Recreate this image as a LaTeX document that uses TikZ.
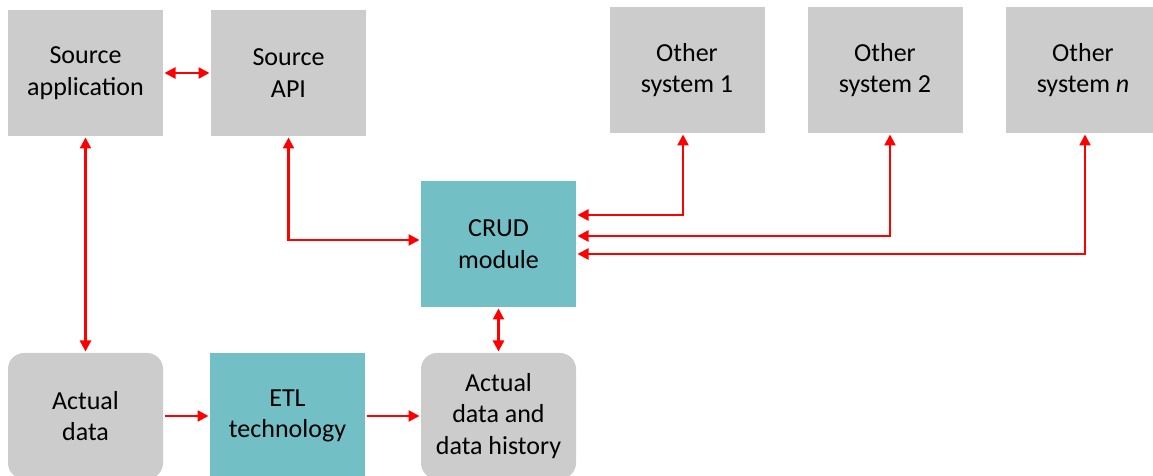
\documentclass[tikz,border=0pt]{standalone}
\usepackage{fontspec}
\setmainfont{Carlito}
\usepackage{tikz}
\usetikzlibrary{positioning,arrows.meta,calc}
\definecolor{boxgray}{HTML}{CCCCCC}
\definecolor{boxteal}{HTML}{72BFC6}
\begin{document}
\begin{tikzpicture}[x=1pt, y=1pt,
  box/.style={fill=boxgray, minimum width=155pt, minimum height=126pt,
              align=center, inner sep=2pt, outer sep=1.5pt,
              font=\fontsize{26}{31.7}\selectfont},
  tealbox/.style={box, fill=boxteal},
  roundbox/.style={box, rounded corners=16pt},
  arr/.style={-{Triangle[length=11pt,width=11pt]}, line width=2.3pt, red},
  biarr/.style={{Triangle[length=11pt,width=11pt]}-{Triangle[length=11pt,width=11pt]}, line width=2.3pt, red},
]
  \useasboundingbox (0,0) rectangle (1153,476);

  \node[box]      (srcapp) at (85.5,403)  {Source\\application};
  \node[box]      (srcapi) at (288.5,403) {Source\\API};
  \node[box]      (other1) at (687,406)   {Other\\system 1};
  \node[box]      (other2) at (885,406)   {Other\\system 2};
  \node[box]      (othern) at (1083,406)  {Other\\system \textit{n}};
  \node[tealbox]  (crud)   at (498.5,232) {CRUD\\module};
  \node[roundbox] (actual) at (85.5,60)   {Actual\\data};
  \node[tealbox]  (etl)    at (287.5,60)  {ETL\\technology};
  \node[roundbox] (hist)   at (498.5,60)  {Actual\\data and\\data history};

  \draw[biarr] (srcapp) -- (srcapi);
  \draw[biarr] (srcapp) -- (actual);
  \draw[biarr] (srcapi.south) |- ([yshift=4pt]crud.west);
  \draw[biarr] ([xshift=-4pt]other1.south) |- ([yshift=29pt]crud.east);
  \draw[biarr] ([xshift=5pt]other2.south) |- ([yshift=8pt]crud.east);
  \draw[biarr] ([xshift=2pt]othern.south) |- ([yshift=-10pt]crud.east);
  \draw[biarr] (crud) -- (hist);
  \draw[arr] (actual) -- (etl);
  \draw[arr] (etl) -- (hist);
\end{tikzpicture}
\end{document}
